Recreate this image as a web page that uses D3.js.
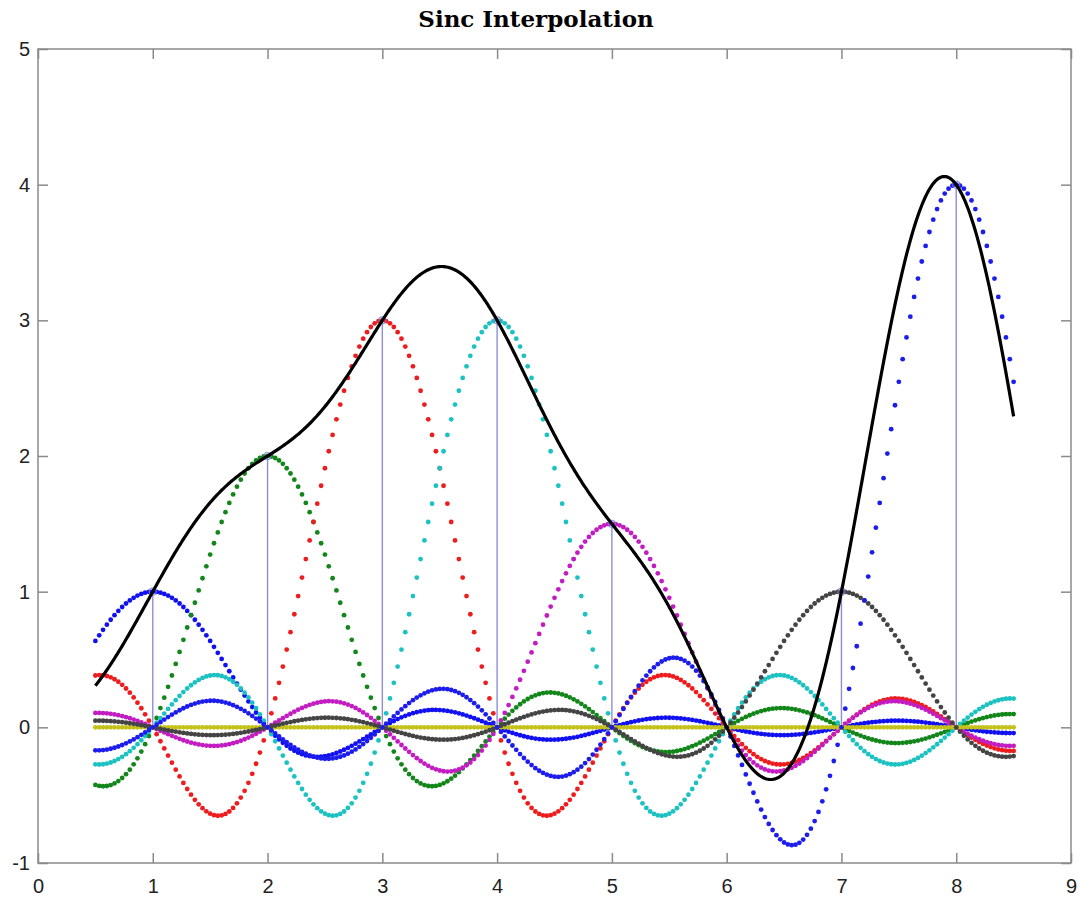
<!DOCTYPE html>
<html>
<head>
<meta charset="utf-8">
<script src="https://cdn.jsdelivr.net/npm/d3@7"></script>
<style>
  html, body { margin: 0; padding: 0; background: #fff; }
  svg { display: block; }
</style>
</head>
<body>
<svg id="chart" width="1079" height="901"></svg>
<script>
// ---- data ----
const title = "Sinc Interpolation";
const sampleX = [1, 2, 3, 4, 5, 6, 7, 8];
const sampleY = [1, 2, 3, 3, 1.5, 0, 1, 4];
const curveColors = ["#1010f0", "#13861a", "#ee1c1c", "#1cc2c2", "#c21cc2", "#c4c21a", "#444444", "#1c1cec"];
const xTicks = [0, 1, 2, 3, 4, 5, 6, 7, 8, 9];
const yTicks = [-1, 0, 1, 2, 3, 4, 5];
const xRange = [0.5, 8.5];   // interval over which the kernels are evaluated
const dotsPerUnit = 30;      // kernel sample density (dots per x unit)

// ---- layout ----
const W = 1079, H = 901;
const mg = { left: 38, right: 8, top: 49, bottom: 38 };
const svg = d3.select("#chart");
const xS = d3.scaleLinear().domain([0, 9]).range([mg.left, W - mg.right]);
const yS = d3.scaleLinear().domain([-1, 5]).range([H - mg.bottom, mg.top]);

const sinc = t => t === 0 ? 1 : Math.sin(Math.PI * t) / (Math.PI * t);

const nDots = Math.round((xRange[1] - xRange[0]) * dotsPerUnit);
const xs = d3.range(nDots + 1).map(i => xRange[0] + i / dotsPerUnit);
const xsFine = d3.range(801).map(i => xRange[0] + i * (xRange[1] - xRange[0]) / 800);

const plot = svg.append("g");
const stemData = sampleX.map((sx, i) => [sx, sampleY[i]]).filter(d => d[1] !== 0);

// stems
plot.selectAll("line.stem").data(stemData)
  .join("line").attr("class", "stem")
  .attr("x1", d => xS(d[0])).attr("x2", d => xS(d[0]))
  .attr("y1", yS(0)).attr("y2", d => yS(d[1]))
  .attr("stroke", "#8e8ed8").attr("stroke-width", 1.4);

// kernel curves as dots
sampleX.forEach((sx, i) => {
  const pts = xs.map(xx => [xx, sampleY[i] * sinc(xx - sx)]);
  const g = plot.append("g").attr("fill", curveColors[i]);
  g.selectAll("circle").data(pts).join("circle")
    .attr("cx", d => xS(d[0])).attr("cy", d => yS(d[1])).attr("r", 2.4);
});

// stem top markers
plot.selectAll("circle.mk").data(stemData)
  .join("circle").attr("class", "mk")
  .attr("cx", d => xS(d[0])).attr("cy", d => yS(d[1])).attr("r", 3.5)
  .attr("fill", "none").attr("stroke", "#7a7ae0").attr("stroke-width", 1.2).attr("opacity", 0.8);

// interpolated sum
const sumPts = xsFine.map(xx => [xx, d3.sum(sampleX, (sx, i) => sampleY[i] * sinc(xx - sx))]);
plot.append("path").datum(sumPts)
  .attr("fill", "none").attr("stroke", "#000").attr("stroke-width", 3.2)
  .attr("stroke-linejoin", "round")
  .attr("d", d3.line().x(d => xS(d[0])).y(d => yS(d[1])));

// ---- axes (box with inward ticks) ----
const axisColor = "#8a8a8a";
const tickLen = 10;
svg.append("rect").attr("x", xS(0)).attr("y", yS(5))
  .attr("width", xS(9) - xS(0)).attr("height", yS(-1) - yS(5))
  .attr("fill", "none").attr("stroke", axisColor).attr("stroke-width", 1.5);

const fmt = d => String(d);
const axB = svg.append("g").attr("transform", `translate(0,${yS(-1)})`)
  .call(d3.axisBottom(xS).tickValues(xTicks).tickSize(-tickLen).tickPadding(16).tickFormat(fmt));
const axT = svg.append("g").attr("transform", `translate(0,${yS(5)})`)
  .call(d3.axisTop(xS).tickValues(xTicks).tickSize(-tickLen).tickFormat(""));
const axL = svg.append("g").attr("transform", `translate(${xS(0)},0)`)
  .call(d3.axisLeft(yS).tickValues(yTicks).tickSize(-tickLen).tickPadding(8).tickFormat(fmt));
const axR = svg.append("g").attr("transform", `translate(${xS(9)},0)`)
  .call(d3.axisRight(yS).tickValues(yTicks).tickSize(-tickLen).tickFormat(""));

[axB, axT, axL, axR].forEach(a => {
  a.select(".domain").remove();
  a.selectAll(".tick line").attr("stroke", axisColor).attr("stroke-width", 1.5);
  a.selectAll(".tick text").attr("fill", "#222").style("font-family", "Liberation Sans, Arial, sans-serif").style("font-size", "20px");
});

// title
svg.append("text").attr("x", 536).attr("y", 27)
  .attr("text-anchor", "middle")
  .style("font-family", "DejaVu Serif, serif").style("font-weight", "bold").style("font-size", "23px")
  .attr("fill", "#000").text(title);
</script>
</body>
</html>
